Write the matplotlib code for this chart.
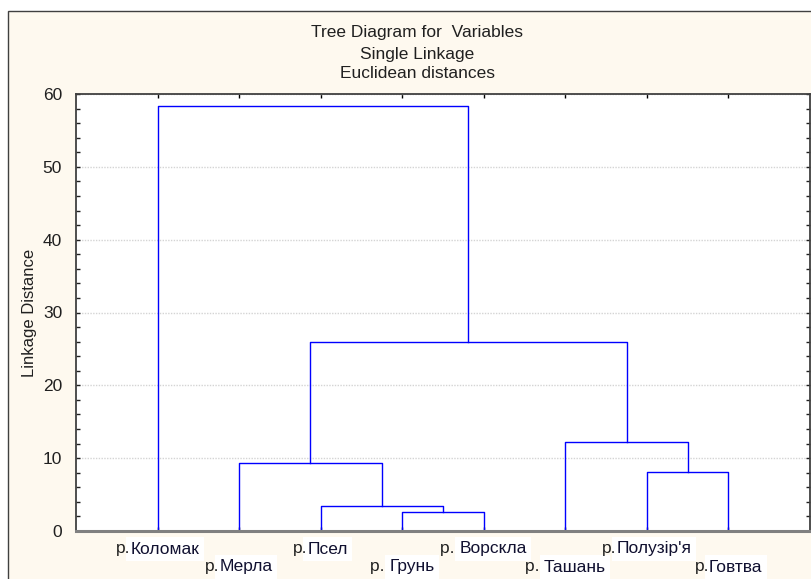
import matplotlib.pyplot as plt
from matplotlib.patches import Rectangle
from matplotlib.ticker import MultipleLocator

plt.rcParams['font.family'] = ['Liberation Sans', 'DejaVu Sans']

# листки дендрограми (зліва направо) та префікси підписів
rivers = ["Коломак", "Мерла", "Псел", "Грунь", "Ворскла", "Ташань", "Полузір'я", "Говтва"]
prefixes = ["р.", "р.", "р.", "р. ", "р. ", "р. ", "р.", "р."]

# об'єднання: (кластер A, кластер B, відстань); нові кластери мають номери 8, 9, ...
merges = [
    (3, 4, 2.6),
    (2, 8, 3.4),
    (1, 9, 9.3),
    (6, 7, 8.1),
    (5, 11, 12.2),
    (10, 12, 26.0),
    (0, 13, 58.4),
]

fig = plt.figure(figsize=(8.11, 5.79), dpi=100, facecolor='white')
fig.patches.append(Rectangle((8 / 811, -0.1), 1.1, 1.1 - 11 / 579,
                             transform=fig.transFigure, facecolor='#fef9ef',
                             edgecolor='#404040', linewidth=1, zorder=-5))

ax = fig.add_axes([76 / 811, 48 / 579, 734 / 811, 437 / 579])
ax.set_facecolor('white')

pos = {i: i + 1 for i in range(len(rivers))}
height = {i: 0.0 for i in range(len(rivers))}
for k, (a, b, d) in enumerate(merges):
    xa, xb = pos[a], pos[b]
    ax.plot([xa, xa, xb, xb], [height[a], d, d, height[b]], color='#0000ff', lw=1)
    new = len(rivers) + k
    pos[new] = (xa + xb) / 2
    height[new] = d

ax.set_xlim(0, 9)
ax.set_ylim(0, 60)
ax.set_xticks(range(1, len(rivers) + 1))
ax.set_xticklabels([])
ax.yaxis.set_major_locator(MultipleLocator(10))
ax.yaxis.set_minor_locator(MultipleLocator(2))
ax.tick_params(axis='y', which='both', direction='in', left=True, right=True,
               length=3, width=1, colors='#202020', labelsize=12.5, pad=10)
ax.tick_params(axis='x', direction='in', top=True, bottom=True, length=3, width=1)
ax.grid(axis='y', which='major', linestyle=(0, (1, 1)), color='#d4d4d4', lw=1)
ax.set_axisbelow(True)
for side in ['top', 'left', 'right']:
    ax.spines[side].set_color('#404040')
    ax.spines[side].set_linewidth(1.3)
ax.spines['bottom'].set_color('#808080')
ax.spines['bottom'].set_linewidth(2.2)

ax.set_ylabel('Linkage Distance', fontsize=12, color='#202020', labelpad=4)

fig.text(417 / 811, 1 - 33 / 579, 'Tree Diagram for  Variables', ha='center', va='center',
         fontsize=12.5, color='#202020')
fig.text(417 / 811, 1 - 55 / 579, 'Single Linkage', ha='center', va='center',
         fontsize=12.5, color='#202020')
fig.text(417 / 811, 1 - 73 / 579, 'Euclidean distances', ha='center', va='center',
         fontsize=12.5, color='#202020')

# підписи листків у два ряди: префікс на тлі, назва в білій рамці
fig.canvas.draw()
renderer = fig.canvas.get_renderer()
rows = [549, 567]
for i, (pre, name) in enumerate(zip(prefixes, rivers)):
    y = 1 - rows[i % 2] / 579
    t1 = fig.text(0, y, pre, ha='left', va='center', fontsize=12.5, color='#202020',
                  zorder=6)
    t2 = fig.text(0, y, name, ha='left', va='center', fontsize=12.5, color='#101030',
                  zorder=4,
                  bbox=dict(boxstyle='square,pad=0.25', facecolor='white', edgecolor='none'))
    w1 = t1.get_window_extent(renderer).width
    w2 = t2.get_window_extent(renderer).width
    xc = ax.transData.transform((i + 1, 0))[0]
    x0 = xc - (w1 + w2) / 2
    t1.set_x(x0 / 811)
    t2.set_x((x0 + w1) / 811)

fig.savefig('out.png', dpi=100, facecolor=fig.get_facecolor())
